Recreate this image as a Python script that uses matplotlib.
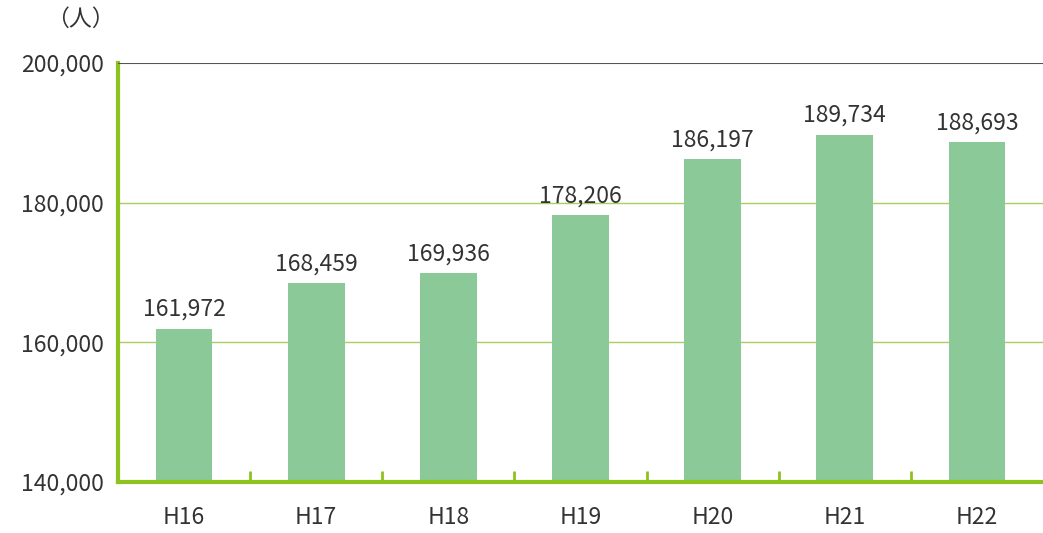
import matplotlib.pyplot as plt
import numpy as np

plt.rcParams['font.family'] = ['Noto Sans CJK JP', 'DejaVu Sans']

years = ['H16', 'H17', 'H18', 'H19', 'H20', 'H21', 'H22']
people = [161972, 168459, 169936, 178206, 186197, 189734, 188693]
yticks = [140000, 160000, 180000, 200000]

bar_color = '#8bc998'
line_green = '#8dc21f'
text_color = '#333333'

fig = plt.figure(figsize=(10.43, 5.33), dpi=100)
ax = fig.add_axes([0.1131, 0.0957, 0.8869, 0.7861])

x = np.arange(len(years))
ax.bar(x, people, width=0.43, color=bar_color, zorder=2)
for xi, v in zip(x, people):
    ax.text(xi, v + 1100, f'{v:,}', ha='center', va='bottom', fontsize=16.5, color=text_color)

ax.set_xlim(-0.5, len(years) - 0.5)
ax.set_ylim(140000, 200000)
ax.set_yticks(yticks)
ax.set_yticklabels([f'{v:,}' for v in yticks], fontsize=16.5, color=text_color)
ax.set_xticks(x)
ax.set_xticklabels(years, fontsize=16.5, color=text_color)
ax.tick_params(axis='x', length=0, pad=17)
ax.tick_params(axis='y', length=0, pad=10)
ax.set_xticks(x[:-1] + 0.5, minor=True)
ax.tick_params(axis='x', which='minor', direction='in', length=8, width=2, color=line_green)

for v in yticks[1:3]:
    ax.axhline(v, color='#a8d060', lw=1, zorder=1)
ax.axhline(200000, color='#555555', lw=1.5, zorder=3)

for side in ['top', 'right']:
    ax.spines[side].set_visible(False)
for side in ['left', 'bottom']:
    ax.spines[side].set_color(line_green)
    ax.spines[side].set_linewidth(3)

fig.text(0.077, 0.963, '（人）', ha='center', va='center', fontsize=16.5, color=text_color)

fig.savefig('out.png', dpi=100)
